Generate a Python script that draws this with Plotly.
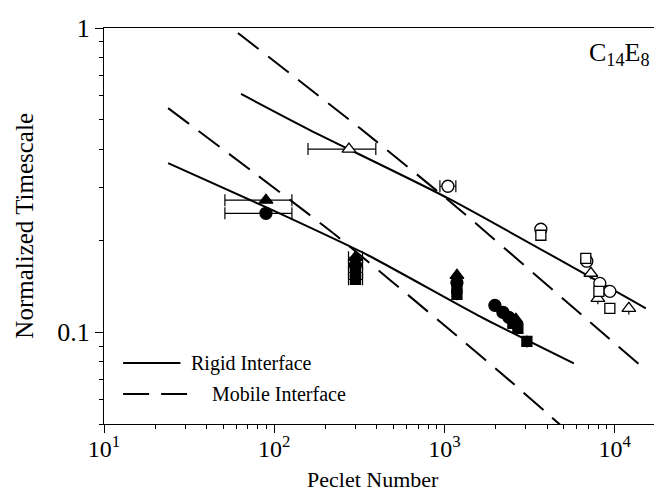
import plotly.graph_objects as go
import numpy as np

# ---------------- data ----------------
# Model curves (Peclet number, normalized timescale)
rigid_upper_pe = [63.8, 162, 1047, 15230]
rigid_upper_t = [0.607, 0.462, 0.276, 0.120]
rigid_lower_pe = [23.8, 89.4, 355, 1570, 5754]
rigid_lower_t = [0.3597, 0.2578, 0.1792, 0.1138, 0.0791]
mobile_upper_pe = [61.2, 318, 1199, 7640, 14830]
mobile_upper_t = [0.9628, 0.469, 0.2558, 0.1047, 0.0761]
mobile_lower_pe = [23.8, 78.1, 230, 1047, 2522, 4760]
mobile_lower_t = [0.5455, 0.331, 0.2085, 0.1031, 0.0680, 0.0498]

# Filled symbols (lower set)
fc_pe = [89.4, 300, 1183, 1977, 2203, 2389]
fc_t = [0.2462, 0.1661, 0.1457, 0.1227, 0.1164, 0.1120]
fc_err_plus = [37.6, 30, 0, 0, 0, 0]
fc_err_minus = [38.1, 27, 0, 0, 0, 0]

ft_pe = [89.4, 300, 1183, 2627]
ft_t = [0.2718, 0.1765, 0.1540, 0.1104]
ft_err_plus = [37.6, 30, 0, 0]
ft_err_minus = [38.1, 27, 0, 0]

fs_pe = [300, 300, 1183, 1183, 2522, 2698, 3048]
fs_t = [0.1576, 0.1494, 0.1397, 0.1334, 0.1071, 0.1031, 0.0934]
fs_err_plus = [30, 30, 0, 0, 0, 0, 0]
fs_err_minus = [27, 27, 0, 0, 0, 0, 0]

# Open symbols (upper set)
ot_pe = [274.6, 7240, 7960, 12100]
ot_t = [0.400, 0.1564, 0.1294, 0.1199]
ot_err_plus = [120.4, 0, 0, 0]
ot_err_minus = [116.8, 0, 0, 0]

oc_pe = [1047, 3681, 6851, 8170, 9360]
oc_t = [0.302, 0.2182, 0.1713, 0.1449, 0.1364]
oc_err_plus = [119, 0, 0, 0, 0]
oc_err_minus = [107, 0, 0, 0, 0]

os_pe = [3681, 6761, 8070, 9360]
os_t = [0.2085, 0.1751, 0.1364, 0.1199]

x_tickvals = [10, 100, 1000, 10000]
x_ticktext = ["10<sup>1</sup>", "10<sup>2</sup>", "10<sup>3</sup>", "10<sup>4</sup>"]
x_minor = [m * 10 ** e for e in range(1, 5) for m in range(2, 10) if m * 10 ** e <= 20000]
y_tickvals = [0.1, 1]
y_ticktext = ["0.1", "1"]
y_minor = [0.05, 0.06, 0.07, 0.08, 0.09, 0.2, 0.3, 0.4, 0.5, 0.6, 0.7, 0.8, 0.9]

legend_labels = ["Rigid Interface", "Mobile Interface"]

FONT = "Liberation Serif"
DASH = "26px,12px"

fig = go.Figure()

def curve(x, y, dash):
    fig.add_trace(go.Scatter(x=x, y=y, mode="lines", line=dict(color="black", width=2, dash=dash,
                                                              shape="spline", smoothing=0.6),
                             showlegend=False, hoverinfo="skip"))

curve(rigid_upper_pe, rigid_upper_t, "solid")
curve(rigid_lower_pe, rigid_lower_t, "solid")
curve(mobile_upper_pe, mobile_upper_t, DASH)
curve(mobile_lower_pe, mobile_lower_t, DASH)

def err(plus, minus):
    return dict(type="data", symmetric=False, array=plus, arrayminus=minus,
                color="black", thickness=1.2, width=6)

def pts(x, y, symbol, size, filled, e=None):
    marker = dict(symbol=symbol, size=size, color="black" if filled else "white",
                  line=dict(color="black", width=1.3))
    fig.add_trace(go.Scatter(x=x, y=y, mode="markers", marker=marker,
                             error_x=e if e else None, showlegend=False))

pts(ot_pe, ot_t, "triangle-up", 12, False, err(ot_err_plus, ot_err_minus))
pts(oc_pe, oc_t, "circle", 12, False, err(oc_err_plus, oc_err_minus))
pts(os_pe, os_t, "square", 10, False)

pts(fs_pe, fs_t, "square", 10, True, err(fs_err_plus, fs_err_minus))
pts(fc_pe, fc_t, "circle", 12, True, err(fc_err_plus, fc_err_minus))
pts(ft_pe, ft_t, "triangle-up", 12, True, err(ft_err_plus, ft_err_minus))

# legend drawn manually
fig.add_shape(type="line", xref="paper", yref="paper", x0=0.034, x1=0.136, y0=0.154, y1=0.154,
              line=dict(color="black", width=2))
fig.add_shape(type="line", xref="paper", yref="paper", x0=0.034, x1=0.168, y0=0.076, y1=0.076,
              line=dict(color="black", width=2, dash=DASH))
fig.add_annotation(xref="paper", yref="paper", x=0.152, y=0.154, text=legend_labels[0],
                   showarrow=False, xanchor="left", yanchor="middle",
                   font=dict(family=FONT, size=20, color="black"))
fig.add_annotation(xref="paper", yref="paper", x=0.188, y=0.076, text=legend_labels[1],
                   showarrow=False, xanchor="left", yanchor="middle",
                   font=dict(family=FONT, size=20, color="black"))

fig.add_annotation(xref="paper", yref="paper", x=0.975, y=0.935, text="C<sub>14</sub>E<sub>8</sub>",
                   showarrow=False, xanchor="right", yanchor="middle",
                   font=dict(family=FONT, size=26, color="black"))

# axis titles
fig.add_annotation(xref="paper", yref="paper", x=0.479, y=-0.14, text="Peclet Number",
                   showarrow=False, xanchor="center", yanchor="middle",
                   font=dict(family=FONT, size=22, color="black"))
fig.add_annotation(xref="paper", yref="paper", x=-0.143, y=0.5, text="Normalized Timescale",
                   showarrow=False, xanchor="center", yanchor="middle", textangle=-90,
                   font=dict(family=FONT, size=25, color="black"))

fig.update_xaxes(type="log", range=[1, np.log10(20000)], tickmode="array",
                 tickvals=x_tickvals, ticktext=x_ticktext, ticks="outside", ticklen=8,
                 tickcolor="black", tickwidth=1, showline=True, linecolor="black", linewidth=1,
                 mirror=True, showgrid=False, zeroline=False, ticklabelstandoff=-5,
                 tickfont=dict(family=FONT, size=24, color="black"),
                 minor=dict(tickmode="array", tickvals=x_minor, ticks="outside", ticklen=4,
                            tickcolor="black", showgrid=False))
fig.update_yaxes(type="log", range=[np.log10(0.05), 0], tickmode="array",
                 tickvals=y_tickvals, ticktext=y_ticktext, ticks="outside", ticklen=8,
                 tickcolor="black", tickwidth=1, showline=True, linecolor="black", linewidth=1,
                 mirror=True, showgrid=False, zeroline=False,
                 tickfont=dict(family=FONT, size=26, color="black"),
                 minor=dict(tickmode="array", tickvals=y_minor, ticks="outside", ticklen=4,
                            tickcolor="black", showgrid=False))

fig.update_layout(width=662, height=492, margin=dict(l=96, r=4, t=20, b=76),
                  paper_bgcolor="white", plot_bgcolor="white", showlegend=False)

fig.write_html("out.html")
